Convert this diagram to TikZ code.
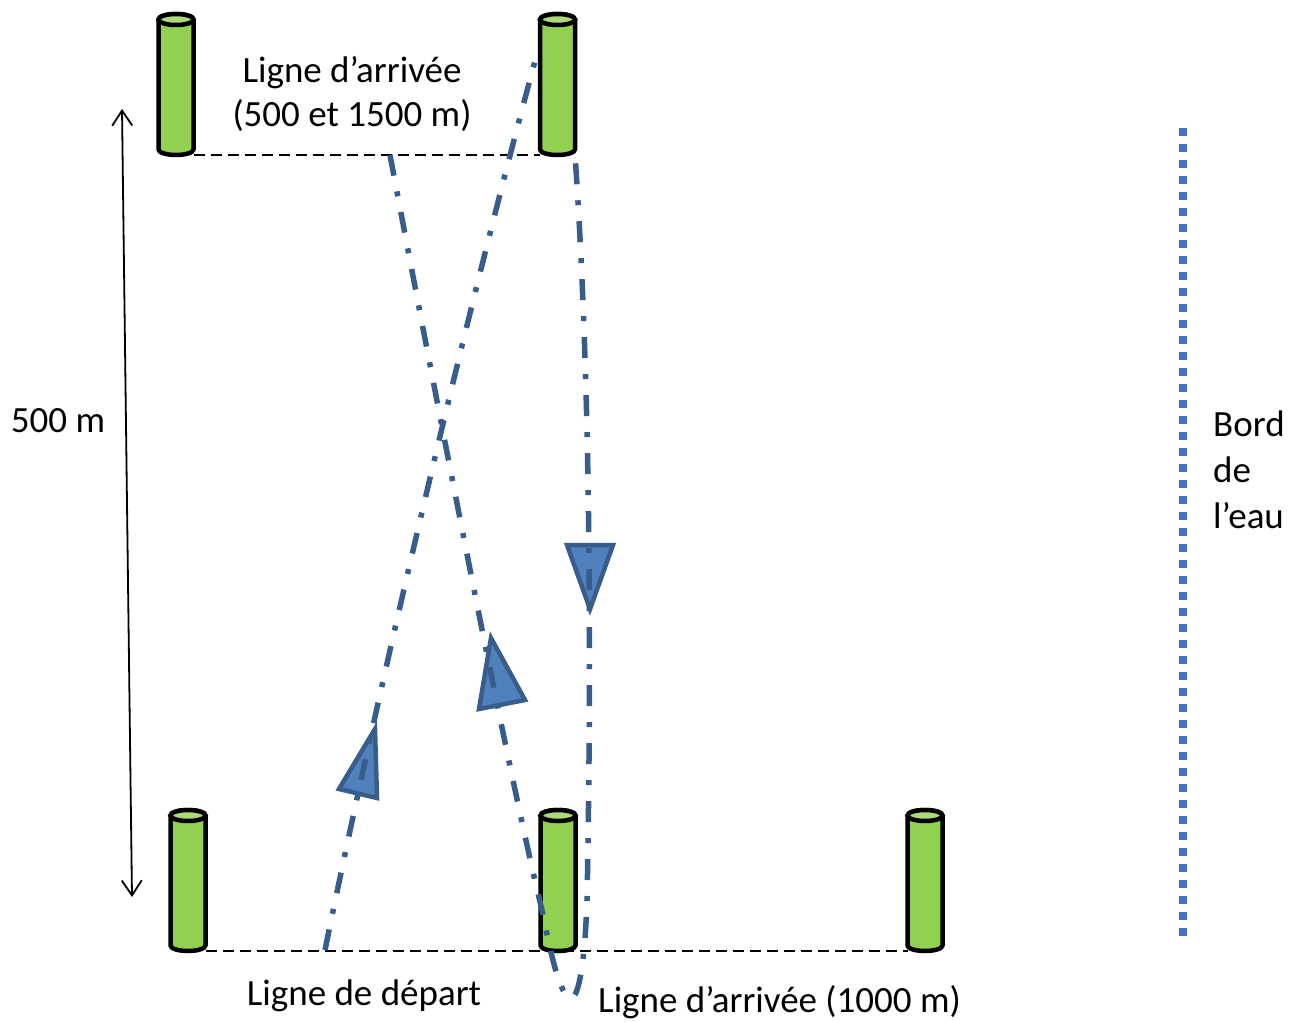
\documentclass[tikz,border=0pt]{standalone}
\usepackage{fontspec}
\setmainfont{Carlito}
\usetikzlibrary{arrows.meta}

\definecolor{buoygreen}{HTML}{92D050}
\definecolor{buoycap}{HTML}{ADD97A}
\definecolor{routeblue}{HTML}{385D8A}
\definecolor{flagfill}{HTML}{4F81BD}
\definecolor{shoreblue}{HTML}{4472C4}

\pgfdeclarelayer{background}
\pgfsetlayers{background,main}

\tikzset{
  buoy body/.style={fill=buoygreen, draw=black, line width=4.5pt, line join=round},
  buoy cap/.style={fill=buoycap, draw=black, line width=4.5pt},
  % a cylindrical buoy, origin at the lowest point of its base
  buoy/.pic={
    \coordinate (-base) at (0,0);
    \coordinate (-left) at (-17.5,0);
    \coordinate (-right) at (17.5,0);
    \filldraw[buoy body] (-17.5,-5.5)
      arc[start angle=180, end angle=0, x radius=17.5, y radius=5.5]
      -- (17.5,-135.5)
      arc[start angle=0, end angle=-180, x radius=17.5, y radius=5.5]
      -- cycle;
    \filldraw[buoy cap] (0,-135.5) ellipse[x radius=17.5, y radius=5.5];
  },
  lineline/.style={draw=black, line width=2pt, dash pattern=on 11pt off 6pt},
  route/.style={draw=routeblue, line width=5.5pt, dash pattern=on 21pt off 16pt on 5pt off 16pt},
  flag/.style={fill=flagfill, draw=routeblue, line width=4.5pt, line join=miter},
  shore/.style={draw=shoreblue, line width=8pt, dash pattern=on 8pt off 8pt},
  measure/.style={draw=black, line width=1.8pt, {Straight Barb[length=15pt, width=20pt]}-{Straight Barb[length=15pt, width=20pt]}},
  label/.style={inner sep=0pt, font=\fontsize{37}{44}\selectfont, text=black},
}

\begin{document}
\begin{tikzpicture}[x=1pt, y=-1pt]
\useasboundingbox (0,0) rectangle (1299,1022);

% buoys
\pic (tl) at (176,155) {buoy};
\pic (tm) at (557.5,155) {buoy};
\pic (bl) at (188,951) {buoy};
\pic (bm) at (558,951) {buoy};
\pic (br) at (925,951) {buoy};

% finish and start lines, behind the buoys
\begin{pgfonlayer}{background}
  \draw[lineline] (tl-right) -- (tm-left);
  \draw[lineline] (bl-right) -- (br-left);
\end{pgfonlayer}

% course points
\coordinate (start) at (325,950);
\coordinate (turn) at (538,50);
\coordinate (finish) at (390,155);

% direction flags
\draw[flag] (375,729) -- (339,789) -- (377,798) -- cycle;
\draw[flag] (491,638) -- (479,709) -- (525,700) -- cycle;
\draw[flag] (567,545) -- (613,545) -- (590,609) -- cycle;

% swimming route
\draw[route] (start) .. controls (380,680) and (470,300) .. (turn);
\draw[route] (finish) .. controls (440,420) and (510,780) .. (542,910)
  .. controls (550,950) and (560,998) .. (571,998)
  .. controls (579,998) and (585,960) .. (587,900)
  .. controls (591,700) and (592,400) .. (tm-right);

% water edge
\coordinate (shoreTop) at (1183,128);
\coordinate (shoreBottom) at (1183,936);
\draw[shore] (shoreTop) -- (shoreBottom);

% distance
\coordinate (mTop) at (122,109);
\coordinate (mBottom) at (132,897);
\draw[measure] (mTop) -- (mBottom);

% labels (a multi-line node sits on the baseline of its last line)
\node[label, anchor=base] (dist) at (58,432) {500 m};
\node[label, anchor=base, align=center] (finishLabel) at (352,127) {Ligne d’arrivée\\(500 et 1500 m)};
\node[label, anchor=base west, align=left, font=\fontsize{37}{46}\selectfont] (shoreLabel) at (1213,528) {Bord\\de\\l’eau};
\node[label, anchor=base] (startLabel) at (364,1005) {Ligne de départ};
\node[label, anchor=base] (finish2Label) at (779.5,1012) {Ligne d’arrivée (1000 m)};
\end{tikzpicture}
\end{document}
